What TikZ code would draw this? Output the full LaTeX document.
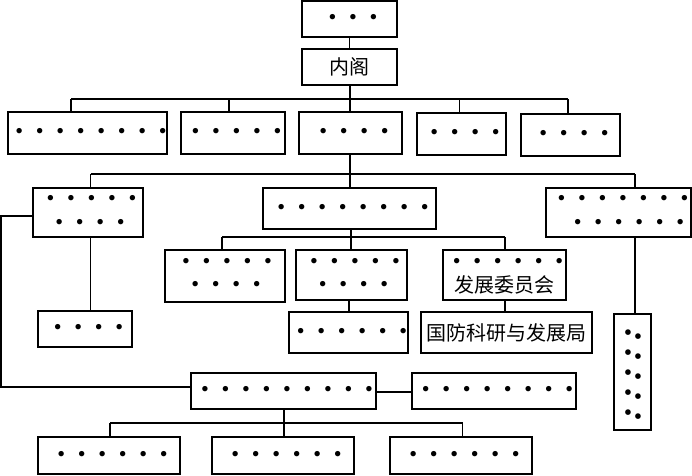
\documentclass[tikz,border=0pt]{standalone}
\usepackage{fontspec}
\newfontfamily\cjk{Noto Sans CJK SC}
\newfontfamily\djv{DejaVu Sans}
\ExplSyntaxOn
\NewDocumentCommand\reprow{mm}{\prg_replicate:nn{#1}{#2}}
\ExplSyntaxOff
\newcommand\dd{\makebox[15.375pt]{\textbullet}}
% dot row inside a box: shifted 3.5px right of the box centre
\newcommand\drow[1]{{\fontsize{18}{18}\selectfont\makebox[0pt]{\hspace*{5.25pt}\reprow{#1}{\dd}}}}
% dot row centred on its own position
\newcommand\drowz[1]{{\fontsize{18}{18}\selectfont\makebox[0pt]{\reprow{#1}{\dd}}}}
\newcommand\dpair{{\djv\fontsize{5.5}{5.5}\selectfont\makebox[7.5pt]{●}\raisebox{-3pt}{\makebox[7.5pt]{●}}}}
\begin{document}
\begin{tikzpicture}[x=0.75pt,y=-0.75pt,line width=1pt,
  box/.style n args={4}{draw,inner sep=0pt,line width=1pt,
    at={({(#1+#3)/2},{(#2+#4)/2})},
    minimum width={(#3-#1)*0.75pt},minimum height={(#4-#2)*0.75pt}},
  cjktext/.style={font=\cjk\fontsize{15}{15}\selectfont},
  rowtext/.style={inner sep=0pt}]
\useasboundingbox[fill=white] (0,0) rectangle (692,475);
% ---------------- boxes ----------------
\node[box={302}{1}{397}{37}] (top) {\drow{3}};
\node[box={302}{47}{397}{83},cjktext,yshift=-1.5pt] (nei) {\raisebox{-2pt}{内阁}};
\node[box={8}{112}{167}{154}] (A) {\drow{8}};
\node[box={181}{112}{285}{154}] (B) {\drow{5}};
\node[box={299}{112}{402}{154}] (C) {\drow{4}};
\node[box={417}{113}{506}{155}] (D) {\drow{4}};
\node[box={521}{114}{620}{156}] (E) {\drow{4}};
\node[box={33}{188}{143}{237}] (L) {};
\node[box={263}{188}{436}{229}] (M) {\drow{8}};
\node[box={546}{188}{691}{237}] (R) {};
\node[box={165}{250}{285}{302}] (M1) {};
\node[box={296}{250}{407}{300}] (M2) {};
\node[box={443}{250}{566}{300}] (M3) {};
\node[box={38}{311}{132}{347}] (L2) {\drow{4}};
\node[box={289}{312}{408}{353}] (M2a) {\drow{6}};
\node[box={421}{312}{592}{353},cjktext] (M3a) {国防科研与发展局};
\node[box={614}{314}{651}{430}] (R2) {};
\node[box={191}{373}{376}{409}] (N) {\drow{9}};
\node[box={412}{373}{576}{409}] (N2) {\drow{8}};
\node[box={38}{437}{180}{474}] (B1) {\drow{6}};
\node[box={212}{437}{354}{474}] (B2) {\drow{6}};
\node[box={390}{437}{532}{474}] (B3) {\drow{6}};
% ---------------- texts of two-line boxes ----------------
\node[rowtext] (Lr1) at (91.5,200) {\drowz{5}};
\node[rowtext] (Lr2) at (90,224) {\drowz{4}};
\node[rowtext] (Rr1) at (623,200) {\drowz{7}};
\node[rowtext] (Rr2) at (629,224) {\drowz{6}};
\node[rowtext] (M1r1) at (227,263) {\drowz{5}};
\node[rowtext] (M1r2) at (226,286) {\drowz{4}};
\node[rowtext] (M2r1) at (355,263) {\drowz{5}};
\node[rowtext] (M2r2) at (353.5,286) {\drowz{4}};
\node[rowtext] (M3r1) at (508,263) {\drowz{6}};
\node[rowtext,cjktext] (M3r2) at (504.5,285) {发展委员会};
\foreach \i in {0,...,4}
  \node[rowtext] (R2r\i) at (633,{335+20*\i}) {\dpair};
% ---------------- connectors ----------------
\draw (top) -- (nei);
\coordinate (j1A) at (71,99);
\coordinate (j1B) at (229,99);
\coordinate (j1C) at (350,99);
\coordinate (j1D) at (459.5,99);
\coordinate (j1E) at (568,99);
\draw (nei.south -| j1C) -- (j1C);
\draw (j1A) -- (j1E);
\foreach \c in {A,B,C,D,E} \draw (j1\c) -- (j1\c |- \c.north);
\coordinate (j2L) at (90.5,174);
\coordinate (j2M) at (350,174);
\coordinate (j2R) at (635,174);
\draw (C.south -| j2M) -- (j2M);
\draw (j2L) -- (j2R);
\draw (j2L) -- (j2L |- L.north);
\draw (j2M) -- (j2M |- M.north);
\draw (j2R) -- (j2R |- R.north);
\draw (j2L |- L.south) -- (j2L |- L2.north);
\draw (j2R |- R.south) -- (j2R |- R2.north);
\coordinate (k1) at (1,216);
\coordinate (k2) at (1,387);
\draw (k1 -| L.west) -- (k1) -- (k2) -- (k2 -| N.west);
\coordinate (j3a) at (222,237);
\coordinate (j3b) at (351,237);
\coordinate (j3c) at (505,237);
\draw (M.south -| j3b) -- (j3b);
\draw (j3a) -- (j3c);
\draw (j3a) -- (j3a |- M1.north);
\draw (j3b) -- (j3b |- M2.north);
\draw (j3c) -- (j3c |- M3.north);
\coordinate (m2d) at (349,306);
\draw (m2d |- M2.south) -- (m2d |- M2a.north);
\draw (j3c |- M3.south) -- (j3c |- M3a.north);
\coordinate (nn) at (384,392);
\draw (nn -| N.east) -- (nn -| N2.west);
\coordinate (j5a) at (110,423);
\coordinate (j5b) at (284,423);
\coordinate (j5c) at (462.5,423);
\draw (j5b |- N.south) -- (j5b);
\draw (j5a) -- (j5c);
\draw (j5a) -- (j5a |- B1.north);
\draw (j5b) -- (j5b |- B2.north);
\draw (j5c) -- (j5c |- B3.north);
\end{tikzpicture}
\end{document}
